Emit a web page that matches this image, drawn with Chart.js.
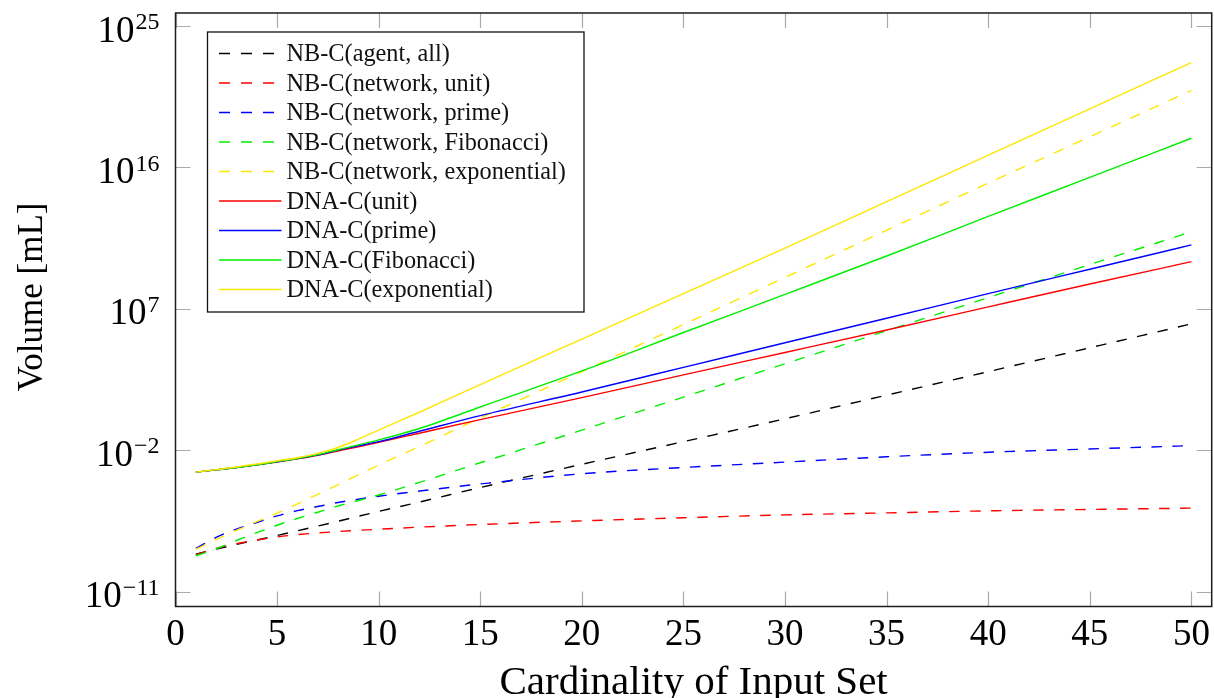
<!DOCTYPE html>
<html>
<head>
<meta charset="utf-8">
<script src="https://cdn.jsdelivr.net/npm/chart.js@4.4.1/dist/chart.umd.min.js"></script>
<style>
  html, body { margin: 0; padding: 0; background: #ffffff; }
  canvas { display: block; }
</style>
</head>
<body>
<canvas id="volumeChart" width="1214" height="698" style="width:1214px;height:698px"></canvas>
<script>
// Cardinality of the input set (x values)
const cardinality = [1, 2, 3, 4, 5, 6, 7, 8, 9, 10, 12, 15, 20, 25, 30, 35, 40, 45, 50];

// Volumes in mL for each construction
const nbAgentAll = [2.4e-9, 5.0e-9, 1.0e-8, 1.9e-8, 3.7e-8, 7.4e-8, 1.48e-7, 3.0e-7, 6.2e-7, 1.26e-6, 5.0e-6, 4.2e-5, 1.26e-3, 3.5e-2, 1.0, 32, 1.0e3, 3.3e4, 1.1e6];
const nbNetworkUnit = [2.2e-9, 5.6e-9, 1.12e-8, 1.9e-8, 3.0e-8, 4.2e-8, 5.4e-8, 6.6e-8, 7.9e-8, 9.3e-8, 1.26e-7, 1.86e-7, 3.16e-7, 5.0e-7, 7.6e-7, 1.02e-6, 1.38e-6, 1.7e-6, 2.04e-6];
const nbNetworkPrime = [5.6e-9, 2.8e-8, 9.5e-8, 2.5e-7, 6.6e-7, 1.41e-6, 2.6e-6, 4.7e-6, 7.6e-6, 1.17e-5, 2.5e-5, 7.1e-5, 3.16e-4, 7.9e-4, 1.74e-3, 3.8e-3, 7.4e-3, 1.2e-2, 1.95e-2];
const nbNetworkFibonacci = [1.9e-9, 5.2e-9, 1.78e-8, 5.6e-8, 1.66e-7, 4.5e-7, 1.12e-6, 2.8e-6, 6.3e-6, 1.41e-5, 8.9e-5, 1.58e-3, 0.19, 24, 3.2e3, 4.0e5, 5.2e7, 6.6e9, 7.9e11];
const nbNetworkExponential = [5.0e-9, 2.0e-8, 7.9e-8, 2.8e-7, 1.0e-6, 3.8e-6, 1.55e-5, 6.3e-5, 2.7e-4, 1.12e-3, 1.7e-2, 1.12, 1.0e3, 1.0e6, 1.0e9, 1.0e12, 1.0e15, 8.9e17, 7.9e20];
const dnaUnit = [4.0e-4, 5.6e-4, 7.9e-4, 1.17e-3, 1.78e-3, 2.8e-3, 4.8e-3, 8.9e-3, 1.66e-2, 3.16e-2, 0.12, 0.89, 22, 620, 1.66e4, 4.5e5, 1.32e7, 3.8e8, 1.0e10];
const dnaPrime = [4.0e-4, 5.6e-4, 7.9e-4, 1.17e-3, 1.82e-3, 2.9e-3, 5.0e-3, 1.0e-2, 1.9e-2, 3.5e-2, 0.16, 1.58, 51, 1.86e3, 6.9e4, 2.5e6, 9.3e7, 3.3e9, 1.17e11];
const dnaFibonacci = [4.0e-4, 5.6e-4, 7.9e-4, 1.17e-3, 1.86e-3, 2.95e-3, 5.2e-3, 1.07e-2, 2.2e-2, 4.5e-2, 0.24, 5.6, 1.12e3, 3.1e5, 8.3e7, 2.3e10, 7.6e12, 2.3e15, 7.2e17];
const dnaExponential = [4.0e-4, 5.8e-4, 8.5e-4, 1.32e-3, 2.1e-3, 3.3e-3, 6.3e-3, 1.48e-2, 5.0e-2, 0.19, 2.6, 151, 1.17e5, 9.3e7, 7.4e10, 6.6e13, 6.0e16, 5.4e19, 4.7e22];

// Series labels
const seriesLabels = [
  'NB-C(agent, all)', 'NB-C(network, unit)', 'NB-C(network, prime)',
  'NB-C(network, Fibonacci)', 'NB-C(network, exponential)',
  'DNA-C(unit)', 'DNA-C(prime)', 'DNA-C(Fibonacci)', 'DNA-C(exponential)'
];

// Axis ticks and labels
const xTickValues = [0, 5, 10, 15, 20, 25, 30, 35, 40, 45, 50];
const xTickLabels = ['0', '5', '10', '15', '20', '25', '30', '35', '40', '45', '50'];
const yTickValues = [1e-11, 1e-2, 1e7, 1e16, 1e25];
const yTickBase = '10';
const yTickExponents = ['\u221211', '\u22122', '7', '16', '25'];
const xTitle = 'Cardinality of Input Set';
const yTitle = 'Volume [mL]';

const SERIF = "'Liberation Serif', 'DejaVu Serif', serif";
const RED = '#ff0000', BLUE = '#0000ff', GREEN = '#00ee00', YELLOW = '#ffe600', BLACK = '#000000';
const DASH = [10.5, 10.5];

function toPoints(values) {
  return cardinality.map((n, i) => ({ x: n, y: values[i] }));
}

const styles = [
  { color: BLACK, dashed: true },
  { color: RED, dashed: true },
  { color: BLUE, dashed: true },
  { color: GREEN, dashed: true },
  { color: YELLOW, dashed: true },
  { color: RED, dashed: false },
  { color: BLUE, dashed: false },
  { color: GREEN, dashed: false },
  { color: YELLOW, dashed: false }
];
const seriesValues = [nbAgentAll, nbNetworkUnit, nbNetworkPrime, nbNetworkFibonacci, nbNetworkExponential,
  dnaUnit, dnaPrime, dnaFibonacci, dnaExponential];

const datasets = seriesValues.map((vals, i) => ({
  label: seriesLabels[i],
  data: toPoints(vals),
  borderColor: styles[i].color,
  backgroundColor: styles[i].color,
  borderDash: styles[i].dashed ? DASH : [],
  borderWidth: 1.4,
  pointRadius: 0,
  fill: false,
  cubicInterpolationMode: 'monotone',
  order: seriesValues.length - 1 - i
}));

const TICK_LEN = 15;

// Inner tick marks on all four sides
const tickMarks = {
  id: 'tickMarks',
  beforeDatasetsDraw(chart) {
    const { ctx, chartArea: a, scales: { x, y } } = chart;
    ctx.save();
    ctx.strokeStyle = '#a9a9a9';
    ctx.lineWidth = 1.2;
    ctx.beginPath();
    xTickValues.forEach(v => {
      const px = Math.round(x.getPixelForValue(v)) + 0.5;
      ctx.moveTo(px, a.bottom); ctx.lineTo(px, a.bottom - TICK_LEN);
      ctx.moveTo(px, a.top); ctx.lineTo(px, a.top + TICK_LEN);
    });
    yTickValues.forEach(v => {
      const py = Math.round(y.getPixelForValue(v)) + 0.5;
      ctx.moveTo(a.left, py); ctx.lineTo(a.left + TICK_LEN, py);
      ctx.moveTo(a.right, py); ctx.lineTo(a.right - TICK_LEN, py);
    });
    ctx.stroke();
    ctx.restore();
  }
};

// Frame, legend box, tick labels and axis titles
const decorations = {
  id: 'decorations',
  afterDatasetsDraw(chart) {
    const { ctx, chartArea: a, scales: { x, y } } = chart;
    ctx.save();

    // legend
    const box = { left: 207.5, top: 32, right: 584, bottom: 312 };
    ctx.fillStyle = '#ffffff';
    ctx.fillRect(box.left, box.top, box.right - box.left, box.bottom - box.top);
    ctx.strokeStyle = '#111111';
    ctx.lineWidth = 1.3;
    ctx.strokeRect(box.left, box.top, box.right - box.left, box.bottom - box.top);
    ctx.font = '24.3px ' + SERIF;
    ctx.textAlign = 'left';
    ctx.textBaseline = 'alphabetic';
    chart.data.datasets.forEach((ds, i) => {
      const ry = 53.5 + i * 29.5;
      ctx.strokeStyle = ds.borderColor;
      ctx.lineWidth = 1.5;
      ctx.setLineDash(ds.borderDash.length ? [11, 11] : []);
      ctx.beginPath();
      ctx.moveTo(219, ry);
      ctx.lineTo(ds.borderDash.length ? 274 : 281.5, ry);
      ctx.stroke();
      ctx.setLineDash([]);
      ctx.fillStyle = '#111111';
      ctx.fillText(ds.label, 286.5, ry + 7.5);
    });

    // frame
    ctx.strokeStyle = '#1c1c1c';
    ctx.lineWidth = 1.5;
    ctx.strokeRect(a.left, a.top, a.right - a.left, a.bottom - a.top);

    // x tick labels
    ctx.fillStyle = '#000000';
    ctx.font = '37px ' + SERIF;
    ctx.textAlign = 'center';
    xTickValues.forEach((v, i) => {
      ctx.fillText(xTickLabels[i], x.getPixelForValue(v), a.bottom + 38.5);
    });

    // y tick labels: 10 with superscript exponent
    const labelRight = 159.5;
    yTickValues.forEach((v, i) => {
      const py = y.getPixelForValue(v);
      ctx.textAlign = 'right';
      ctx.font = '24px ' + SERIF;
      const ew = ctx.measureText(yTickExponents[i]).width;
      ctx.fillText(yTickExponents[i], labelRight, py + 3.3);
      ctx.font = '37px ' + SERIF;
      ctx.fillText(yTickBase, labelRight - ew - 1, py + 15.5);
    });

    // axis titles
    ctx.font = '41px ' + SERIF;
    ctx.textAlign = 'center';
    ctx.fillText(xTitle, (a.left + a.right) / 2, 694);
    ctx.save();
    ctx.translate(42, 297);
    ctx.rotate(-Math.PI / 2);
    ctx.font = '35px ' + SERIF;
    ctx.fillText(yTitle, 0, 0);
    ctx.restore();

    ctx.restore();
  }
};

new Chart(document.getElementById('volumeChart'), {
  type: 'line',
  data: { datasets },
  options: {
    responsive: false,
    animation: false,
    devicePixelRatio: 1,
    layout: { padding: { top: 13, right: 2.3, left: 0, bottom: 0 } },
    plugins: { legend: { display: false }, tooltip: { enabled: false } },
    scales: {
      x: {
        type: 'linear',
        min: 0,
        max: 51,
        grid: { display: false },
        border: { display: false },
        ticks: { display: false, stepSize: 5 },
        afterFit(scale) { scale.height = 91.5; }
      },
      y: {
        type: 'logarithmic',
        min: Math.pow(10, -11.95),
        max: Math.pow(10, 25.83),
        grid: { display: false },
        border: { display: false },
        ticks: { display: false },
        afterBuildTicks(scale) { scale.ticks = yTickValues.map(v => ({ value: v })); },
        afterFit(scale) { scale.width = 175.5; }
      }
    }
  },
  plugins: [tickMarks, decorations]
});
</script>
</body>
</html>
